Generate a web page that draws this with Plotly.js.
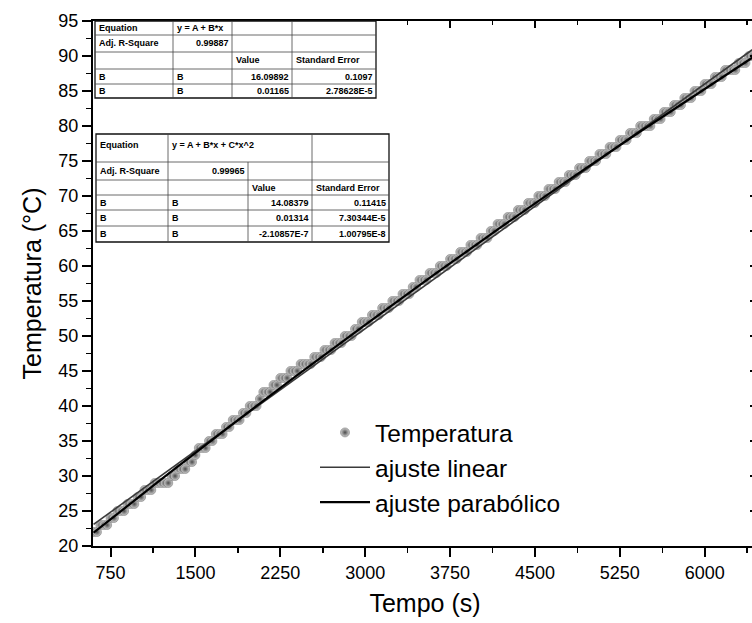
<!DOCTYPE html>
<html>
<head>
<meta charset="utf-8">
<script src="https://cdn.plot.ly/plotly-3.0.1.min.js"></script>
<style>
html,body{margin:0;padding:0;background:#fff;overflow:hidden;}
#chart{width:762px;height:623px;}
</style>
</head>
<body>
<div id="chart"></div>
<script>
// ---------------- DATA ----------------
const timeS = [
 600,630,660,690,720,750,780,810,840,870,
 900,930,960,990,1020,1050,1080,1110,1140,1170,
 1200,1230,1260,1290,1320,1350,1380,1410,1440,1470,
 1500,1530,1560,1590,1620,1650,1680,1710,1740,1770,
 1800,1830,1860,1890,1920,1950,1980,2010,2040,2070,
 2100,2130,2160,2190,2220,2250,2280,2310,2340,2370,
 2400,2430,2460,2490,2520,2550,2580,2610,2640,2670,
 2700,2730,2760,2790,2820,2850,2880,2910,2940,2970,
 3000,3030,3060,3090,3120,3150,3180,3210,3240,3270,
 3300,3330,3360,3390,3420,3450,3480,3510,3540,3570,
 3600,3630,3660,3690,3720,3750,3780,3810,3840,3870,
 3900,3930,3960,3990,4020,4050,4080,4110,4140,4170,
 4200,4230,4260,4290,4320,4350,4380,4410,4440,4470,
 4500,4530,4560,4590,4620,4650,4680,4710,4740,4770,
 4800,4830,4860,4890,4920,4950,4980,5010,5040,5070,
 5100,5130,5160,5190,5220,5250,5280,5310,5340,5370,
 5400,5430,5460,5490,5520,5550,5580,5610,5640,5670,
 5700,5730,5760,5790,5820,5850,5880,5910,5940,5970,
 6000,6030,6060,6090,6120,6150,6180,6210,6240,6270,
 6300,6330,6360,6390,6420
];
const tempC = [
 22,22,23,23,23,24,24,25,25,25,
 26,26,26,27,27,28,28,28,29,29,
 29,29,29,30,30,31,31,31,32,32,
 33,34,34,34,35,35,36,36,36,37,
 37,38,38,38,39,39,40,40,40,41,
 42,42,42,43,43,44,44,44,45,45,
 45,46,46,46,46,47,47,47,48,48,
 48,49,49,49,50,50,50,51,51,52,
 52,52,53,53,53,54,54,54,55,55,
 55,56,56,56,57,57,58,58,58,59,
 59,59,60,60,60,61,61,61,62,62,
 62,63,63,63,64,64,64,65,65,66,
 66,66,67,67,67,68,68,68,69,69,
 69,70,70,70,71,71,71,72,72,72,
 73,73,73,74,74,74,75,75,75,76,
 76,76,77,77,77,78,78,78,79,79,
 79,80,80,80,80,81,81,81,82,82,
 82,83,83,83,84,84,84,85,85,85,
 86,86,86,87,87,87,88,88,88,88,
 89,89,89,90,90
];
// linear fit  y = 16.09892 + 0.01165 x  (values at the ends of the data)
const linFitX = [600, 6420];
const linFitY = [23.089, 90.892];
// parabolic fit  y = 14.08379 + 0.01314 x - 2.10857E-7 x^2
const parFitX = [600, 1200, 1800, 2400, 3000, 3600, 4200, 4800, 5400, 6000, 6420];
const parFitY = [21.892, 29.548, 37.053, 44.405, 51.606, 58.655, 65.552, 72.298, 78.891, 85.333, 89.752];

const seriesNames = ["Temperatura", "ajuste linear", "ajuste parabólico"];
const xTitle = "Tempo (s)";
const yTitle = "Temperatura (°C)";

const table1 = [
 ["Equation", "y = A + B*x", "", ""],
 ["Adj. R-Square", "0.99887", "", ""],
 ["", "", "Value", "Standard Error"],
 ["B", "B", "16.09892", "0.1097"],
 ["B", "B", "0.01165", "2.78628E-5"]
];
const table2 = [
 ["Equation", "y = A + B*x + C*x^2", "", ""],
 ["Adj. R-Square", "0.99965", "", ""],
 ["", "", "Value", "Standard Error"],
 ["B", "B", "14.08379", "0.11415"],
 ["B", "B", "0.01314", "7.30344E-5"],
 ["B", "B", "-2.10857E-7", "1.00795E-8"]
];

// ---------------- LAYOUT HELPERS ----------------
const FONT = "Liberation Sans, Arial, sans-serif";
const W = 762, H = 623;
const PL = 93, PR = 757, PT = 21, PB = 546;
const px = v => (v - PL) / (PR - PL);
const py = v => (PB - v) / (PB - PT);

const shapes = [];
const annotations = [];

function drawTable(cells, cols, rows, textY, skipLines) {
  shapes.push({type:'rect', xref:'paper', yref:'paper', layer:'above',
    x0:px(cols[0]), x1:px(cols[cols.length-1]), y0:py(rows[0]), y1:py(rows[rows.length-1]),
    fillcolor:'#ffffff', line:{color:'#111', width:1.3}});
  for (let i = 1; i < rows.length - 1; i++) {
    shapes.push({type:'line', xref:'paper', yref:'paper', layer:'above',
      x0:px(cols[0]), x1:px(cols[cols.length-1]), y0:py(rows[i]), y1:py(rows[i]),
      line:{color:'#444', width:0.8}});
  }
  for (let j = 1; j < cols.length - 1; j++) {
    let startRow = 0;
    if (skipLines && skipLines[j]) startRow = skipLines[j];
    shapes.push({type:'line', xref:'paper', yref:'paper', layer:'above',
      x0:px(cols[j]), x1:px(cols[j]), y0:py(rows[startRow]), y1:py(rows[rows.length-1]),
      line:{color:'#444', width:0.8}});
  }
  cells.forEach((row, r) => {
    row.forEach((txt, c) => {
      if (!txt) return;
      const isNum = /^-?[0-9]/.test(txt);
      annotations.push({xref:'paper', yref:'paper', showarrow:false,
        x: isNum ? px(cols[c+1] - 2) : px(cols[c] + 3),
        xanchor: isNum ? 'right' : 'left',
        y: py(textY[r]), yanchor:'middle',
        text:'<b>' + txt + '</b>', borderpad:0,
        font:{family:FONT, size:9, color:'#000'}});
    });
  });
}

drawTable(table1, [95,173,232,292,376], [21,35,52,69,84,98], [28,43.5,60.5,76.5,91], null);
drawTable(table2, [96,168,248,312,389], [134,162,180,195,210,226,242], [145,171,187.5,202.5,218,234], {2:1});

// ---------------- TRACES ----------------
const traces = [
  {x:timeS, y:tempC, type:'scatter', mode:'markers', name:seriesNames[0],
   marker:{size:9, color:'#d0d0d0', gradient:{type:'radial', color:'#4a4a4a'},
           line:{color:'#666', width:0.5}}},
  {x:linFitX, y:linFitY, type:'scatter', mode:'lines', name:seriesNames[1],
   line:{color:'#3a3a3a', width:1.6}},
  {x:parFitX, y:parFitY, type:'scatter', mode:'lines', name:seriesNames[2],
   line:{color:'#000', width:2.2}},
  {x:[], y:[], xaxis:'x2', yaxis:'y2', type:'scatter', showlegend:false, hoverinfo:'skip'}
];

const axBase = {showgrid:false, zeroline:false, showline:true, linecolor:'#000', linewidth:2,
  tickcolor:'#000', tickwidth:2, automargin:false, fixedrange:true};
const XR = [595, 6462], YR = [20, 95];

const layout = {
  width:W, height:H,
  margin:{l:PL, r:W-PR, t:PT, b:H-PB, pad:0},
  paper_bgcolor:'#fff', plot_bgcolor:'#fff',
  font:{family:FONT, color:'#000'},
  showlegend:true,
  legend:{x:px(315), xanchor:'left', y:py(410), yanchor:'top', bgcolor:'rgba(0,0,0,0)',
    borderwidth:0, font:{family:FONT, size:24.5, color:'#000'}, itemwidth:50, tracegroupgap:0},
  xaxis:Object.assign({}, axBase, {range:XR, tickmode:'linear', tick0:0, dtick:750,
    ticks:'outside', ticklen:9, tickfont:{family:FONT, size:18, color:'#000'},
    minor:{dtick:375, tick0:0, ticks:'outside', ticklen:5, tickwidth:1.5, tickcolor:'#000'},
    title:{text:xTitle, font:{family:FONT, size:25, color:'#000'}, standoff:13}}),
  yaxis:Object.assign({}, axBase, {range:YR, tickmode:'linear', tick0:0, dtick:5,
    ticks:'outside', ticklen:9, tickfont:{family:FONT, size:18, color:'#000'},
    minor:{dtick:2.5, tick0:0, ticks:'outside', ticklen:5, tickwidth:1.5, tickcolor:'#000'},
    title:{text:yTitle, font:{family:FONT, size:25, color:'#000'}, standoff:10}}),
  xaxis2:Object.assign({}, axBase, {range:XR, overlaying:'x', side:'top', anchor:'y2',
    tickmode:'linear', tick0:0, dtick:750, ticks:'inside', ticklen:7, showticklabels:false,
    minor:{dtick:375, tick0:0, ticks:'inside', ticklen:4, tickwidth:1.5, tickcolor:'#000'}}),
  yaxis2:Object.assign({}, axBase, {range:YR, overlaying:'y', side:'right', anchor:'x2',
    tickmode:'linear', tick0:0, dtick:5, ticks:'inside', ticklen:7, showticklabels:false,
    minor:{dtick:2.5, tick0:0, ticks:'inside', ticklen:4, tickwidth:1.5, tickcolor:'#000'}}),
  shapes:shapes,
  annotations:annotations
};

Plotly.newPlot('chart', traces, layout, {staticPlot:true, displayModeBar:false});
</script>
</body>
</html>
